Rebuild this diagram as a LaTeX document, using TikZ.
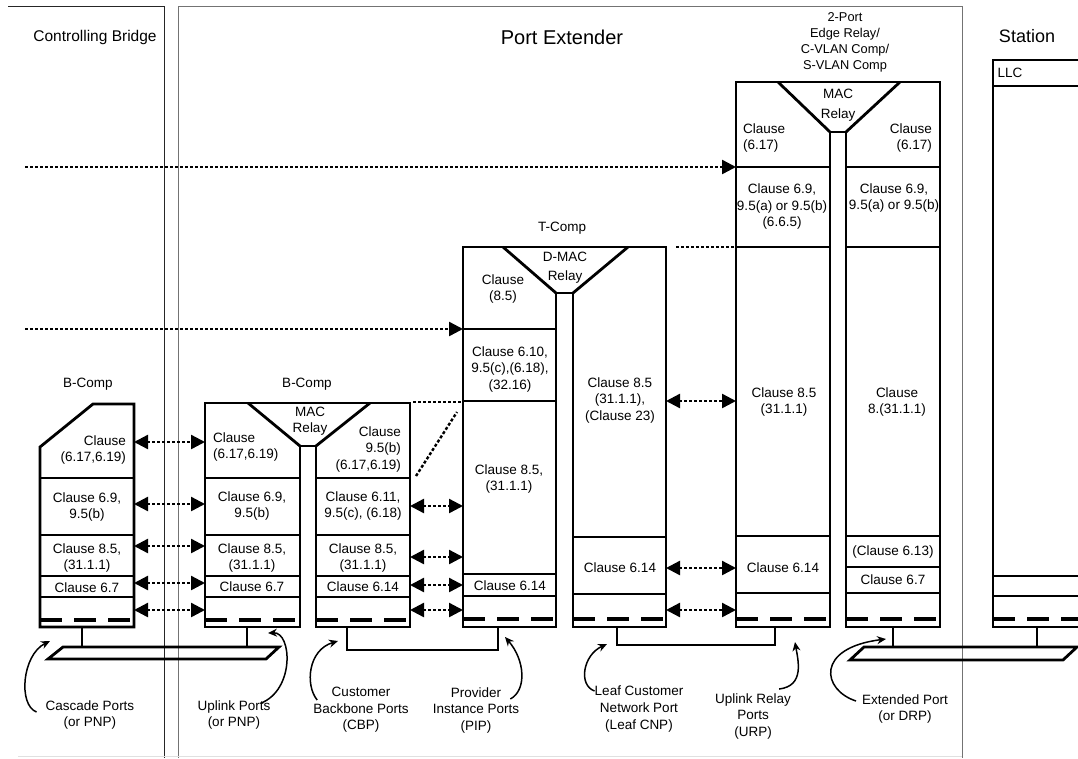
\documentclass[tikz,border=0pt]{standalone}
\usepackage{fontspec}
\setmainfont{Liberation Sans}
\usetikzlibrary{arrows.meta,calc}

\begin{document}
\begin{tikzpicture}[x=1pt, y=-1pt,
  comp/.style={line width=2.8pt, line join=miter},
  portln/.style={line width=3.4pt, dash pattern=on 22pt off 12pt},
  txt/.style={font=\fontsize{13.5}{16.5}\selectfont, align=center, inner sep=0pt},
  relay/.style={txt, font=\fontsize{13.5}{#1}\selectfont},
  ttl/.style={font=\fontsize{#1}{#1}\selectfont, inner sep=0pt},
  frm/.style={line width=0.9pt, black!#1},
  dots/.style={line width=2.4pt, dash pattern=on 3pt off 2pt},
  one/.style={dots, -{Triangle[length=14pt,width=14pt]}},
  dbl/.style={dots, {Triangle[length=14pt,width=14pt]}-{Triangle[length=14pt,width=14pt]}},
  note/.style={-{Stealth[length=9pt,width=8pt]}, line width=1.5pt}
]
  \useasboundingbox (0,0) rectangle (1078,758);
  \clip (0,0) rectangle (1078,758);

  % frames
  \draw[frm=85] (8,6) -- (164,6) -- (164,758);
  \draw[frm=55] (178,758) -- (178,6) -- (962,6) -- (962,758);
  \draw[frm=12] (18,756) -- (962,756);
  \node[ttl=15.5] (cbt) at (95,37) {Controlling Bridge};
  \node[ttl=20] (pet) at (562,37) {Port Extender};
  \node[ttl=18] (stt) at (1027,36) {Station};

  % B-Comp (controlling bridge)
  \node[txt] (bc1l) at (88,384) {B-Comp};
  \draw[comp] (40,447) -- (93,404) -- (134,404) -- (134,627) -- (40,627) -- cycle;
  \foreach \y in {478,535,576,597} \draw[comp] (40,\y) -- (134,\y);
  \draw[portln] (40,620) -- (134,620);
  \node[txt, anchor=east, align=right] (bc1a) at (126,450) {Clause\\(6.17,6.19)};
  \node[txt] (bc1b) at (87,507) {Clause 6.9,\\9.5(b)};
  \node[txt] (bc1c) at (87,558) {Clause 8.5,\\(31.1.1)};
  \node[txt] (bc1d) at (87,588) {Clause 6.7};

  % B-Comp (port extender)
  \node[txt] (bc2l) at (307,384) {B-Comp};
  \draw[comp] (205,403) -- (410,403) -- (410,627) -- (316,627) -- (316,446) -- (300,446) -- (300,627) -- (205,627) -- cycle;
  \draw[comp] (248,403) -- (300,446) (316,446) -- (370,403);
  \foreach \y in {478,535,576,597} \draw[comp] (205,\y) -- (300,\y) (316,\y) -- (410,\y);
  \draw[portln] (205,620) -- (300,620) (316,620) -- (410,620);
  \node[relay=16] (bc2r) at (310,421) {MAC\\Relay};
  \node[txt, anchor=west, align=left] (bc2a) at (213,447) {Clause\\(6.17,6.19)};
  \node[txt] (bc2b) at (252,506) {Clause 6.9,\\9.5(b)};
  \node[txt] (bc2c) at (252,558) {Clause 8.5,\\(31.1.1)};
  \node[txt] (bc2d) at (252,587) {Clause 6.7};
  \node[txt, anchor=east, align=right] (bc2e) at (401,449) {Clause\\9.5(b)\\(6.17,6.19)};
  \node[txt] (bc2f) at (363,506) {Clause 6.11,\\9.5(c), (6.18)};
  \node[txt] (bc2g) at (363,558) {Clause 8.5,\\(31.1.1)};
  \node[txt] (bc2h) at (363,587) {Clause 6.14};

  % T-Comp
  \node[txt] (tcl) at (562,228) {T-Comp};
  \draw[comp] (463,247) -- (666,247) -- (666,627) -- (573,627) -- (573,293) -- (556,293) -- (556,627) -- (463,627) -- cycle;
  \draw[comp] (503,247) -- (556,293) (573,293) -- (628,247);
  \foreach \y in {329,401,574,596} \draw[comp] (463,\y) -- (556,\y);
  \foreach \y in {537,594} \draw[comp] (573,\y) -- (666,\y);
  \draw[portln] (463,619) -- (556,619) (573,619) -- (666,619);
  \node[relay=19] (tcr) at (565,268) {D-MAC\\Relay};
  \node[txt] (tca) at (503,289) {Clause\\(8.5)};
  \node[txt] (tcb) at (510,369) {Clause 6.10,\\9.5(c),(6.18),\\(32.16)};
  \node[txt] (tcc) at (509,479) {Clause 8.5,\\(31.1.1)};
  \node[txt] (tcd) at (510,586) {Clause 6.14};
  \node[txt] (tce) at (620,400) {Clause 8.5\\(31.1.1),\\(Clause 23)};
  \node[txt] (tcf) at (620,568) {Clause 6.14};

  % 2-Port Edge Relay
  \node[txt, font=\fontsize{12.8}{16}\selectfont] (erl) at (845,42) {2-Port\\Edge Relay/\\C-VLAN Comp/\\S-VLAN Comp};
  \draw[comp] (736,82) -- (940,82) -- (940,627) -- (846,627) -- (846,132) -- (830,132) -- (830,627) -- (736,627) -- cycle;
  \draw[comp] (778,82) -- (830,132) (846,132) -- (900,82);
  \foreach \y in {167,247,536,593} \draw[comp] (736,\y) -- (830,\y) (846,\y) -- (940,\y);
  \draw[comp] (846,567) -- (940,567);
  \draw[portln] (736,619) -- (830,619) (846,619) -- (940,619);
  \node[relay=20] (err) at (838,105) {MAC\\Relay};
  \node[txt, anchor=west, align=left] (era) at (743,138) {Clause\\(6.17)};
  \node[txt] (erb) at (782,207) {Clause 6.9,\\9.5(a) or 9.5(b)\\(6.6.5)};
  \node[txt] (erc) at (784,402) {Clause 8.5\\(31.1.1)};
  \node[txt] (erd) at (783,568) {Clause 6.14};
  \node[txt, anchor=east, align=right] (ere) at (932,138) {Clause\\(6.17)};
  \node[txt] (erf) at (894,198) {Clause 6.9,\\9.5(a) or 9.5(b)};
  \node[txt] (erg) at (897,402) {Clause\\8.(31.1.1)};
  \node[txt] (erh) at (893,552) {(Clause 6.13)};
  \node[txt] (eri) at (893,580) {Clause 6.7};

  % Station
  \draw[comp] (1090,60) -- (993,60) -- (993,627) -- (1090,627);
  \foreach \y in {86,576,596} \draw[comp] (993,\y) -- (1090,\y);
  \draw[portln] (993,619) -- (1090,619);
  \node[txt] (llc) at (1010,73) {LLC};

  % ports and links
  \draw[comp] (82,627) -- (82,647) (247,627) -- (247,647);
  \draw[comp] (48,659) -- (63,647) -- (279,647) -- (266,659) -- cycle;
  \draw[comp] (347,627) |- (498,650) -- (498,627);
  \draw[comp] (617,627) |- (775,645) -- (775,627);
  \draw[comp] (893,627) -- (893,647) (1037,627) -- (1037,647);
  \draw[comp] (850,660) -- (864,647) -- (1077,647) -- (1063,660) -- cycle;

  % dotted links
  \coordinate (up1) at (25,167); \coordinate (er1) at (736,167);
  \coordinate (up2) at (25,329); \coordinate (tc1) at (463,329);
  \draw[one] (up1) -- (er1);
  \draw[one] (up2) -- (tc1);
  \coordinate (tcne) at (676,247); \coordinate (ernw) at (734,247);
  \coordinate (bc2ne) at (413,402); \coordinate (tcnw) at (461,402);
  \coordinate (bc2s) at (416,476); \coordinate (tcs) at (457,412);
  \draw[dots] (tcne) -- (ernw);
  \draw[dots] (bc2ne) -- (tcnw);
  \draw[dots] (bc2s) -- (tcs);
  \foreach \y [count=\i] in {442,504,546,583,610}{
    \coordinate (a\i) at (134,\y); \coordinate (b\i) at (205,\y);
    \draw[dbl] (a\i) -- (b\i);
  }
  \foreach \y [count=\i] in {506,557,585,610}{
    \coordinate (c\i) at (410,\y); \coordinate (d\i) at (463,\y);
    \draw[dbl] (c\i) -- (d\i);
  }
  \foreach \y [count=\i] in {401,568,610}{
    \coordinate (e\i) at (666,\y); \coordinate (f\i) at (736,\y);
    \draw[dbl] (e\i) -- (f\i);
  }

  % port names
  \node[txt] (cascp) at (90,715) {Cascade Ports\\(or PNP)};
  \node[txt] (uplp) at (234,715) {Uplink Ports\\(or PNP)};
  \node[txt] (cbp) at (361,710) {Customer\\Backbone Ports\\(CBP)};
  \node[txt] (pip) at (476,710) {Provider\\Instance Ports\\(PIP)};
  \node[txt] (lcnp) at (639,709) {Leaf Customer\\Network Port\\(Leaf CNP)};
  \node[txt] (urp) at (753,716) {Uplink Relay\\Ports\\(URP)};
  \node[txt] (extp) at (905,709) {Extended Port\\(or DRP)};
  \coordinate (cascT) at (50,641);
  \coordinate (uplT) at (268,633);
  \coordinate (cbpT) at (338,641);
  \coordinate (pipT) at (505,637);
  \coordinate (lcnpT) at (607,644);
  \coordinate (urpT) at (795,642);
  \coordinate (extT) at (886,639);
  \draw[note] ($(cascp.west)+(-9,-3)$) .. controls (18,705) and (22,655) .. (cascT);
  \draw[note] ($(uplp.north east)+(-10,3)$) .. controls (295,690) and (292,632) .. (uplT);
  \draw[note] ($(cbp.west)+(4,-10)$) .. controls (305,685) and (308,650) .. (cbpT);
  \draw[note] ($(pip.east)+(-9,-11)$) .. controls (527,690) and (525,660) .. (pipT);
  \draw[note] ($(lcnp.north west)+(0,5)$) .. controls (578,685) and (583,655) .. (lcnpT);
  \draw[note] ($(urp.north east)+(-12,-4)$) .. controls (805,686) and (798,660) .. (urpT);
  \draw[note] ($(extp.west)+(-6,-8)$) .. controls (822,690) and (815,648) .. (extT);
\end{tikzpicture}
\end{document}
